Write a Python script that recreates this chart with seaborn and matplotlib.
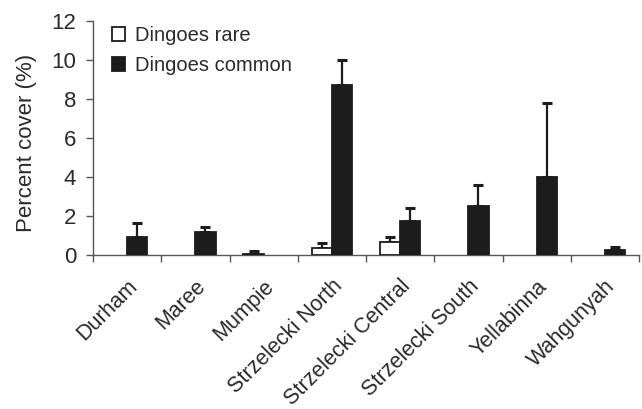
import matplotlib
matplotlib.use("Agg")
import matplotlib.pyplot as plt
from matplotlib.transforms import ScaledTranslation
import seaborn as sns
import pandas as pd
import numpy as np

sites = ["Durham", "Maree", "Mumpie", "Strzelecki North", "Strzelecki Central",
         "Strzelecki South", "Yellabinna", "Wahgunyah"]
groups = ["Dingoes rare", "Dingoes common"]
rare = [0.0, 0.0, 0.05, 0.34, 0.68, 0.0, 0.0, 0.0]
rare_err = [0.0, 0.0, 0.15, 0.26, 0.23, 0.0, 0.0, 0.0]
common = [0.91, 1.16, 0.0, 8.72, 1.73, 2.53, 3.98, 0.26]
common_err = [0.71, 0.29, 0.0, 1.28, 0.66, 1.06, 3.80, 0.17]
yticks = [0, 2, 4, 6, 8, 10, 12]

sns.set_style("ticks")
plt.rcParams['font.family'] = ['Liberation Sans', 'DejaVu Sans']
INK = "#1c1c1c"
TXT = "#2a2a2a"

df = pd.DataFrame({
    "site": sites * 2,
    "group": [groups[0]] * len(sites) + [groups[1]] * len(sites),
    "cover": rare + common,
})
errs = {groups[0]: rare_err, groups[1]: common_err}

fig = plt.figure(figsize=(6.42, 4.09), dpi=100)
ax = fig.add_axes([93 / 642, 1 - 255 / 409, 546 / 642, 234 / 409])

sns.barplot(data=df, x="site", y="cover", hue="group", hue_order=groups,
            palette={groups[0]: "white", groups[1]: INK}, edgecolor=INK,
            linewidth=1.3, width=0.59, errorbar=None, ax=ax, zorder=3)

for cont, g in zip(ax.containers, groups):
    for bar, e in zip(cont, errs[g]):
        if bar.get_height() <= 0:
            bar.set_visible(False)
        if e <= 0:
            continue
        xc = bar.get_x() + bar.get_width() / 2
        top = bar.get_height()
        ax.errorbar([xc], [top], yerr=[[0], [e]], fmt="none", ecolor=INK,
                    elinewidth=1.6, capsize=3.6, capthick=2.2, zorder=2)

ax.set_xlim(-0.5, len(sites) - 0.5)
ax.set_ylim(0, 12)
ax.set_yticks(yticks)
ax.set_yticklabels([str(t) for t in yticks], fontsize=16, color=TXT)
ax.set_xticks(range(len(sites)))
ax.set_xticklabels(sites, rotation=45, ha="right", va="top",
                   rotation_mode="anchor", fontsize=15.5, color=TXT)
shift = ScaledTranslation(3 / 100, 0, fig.dpi_scale_trans)
for lab in ax.get_xticklabels():
    lab.set_transform(lab.get_transform() + shift)
ax.set_xticks(np.arange(-0.5, len(sites)), minor=True)
ax.tick_params(axis="x", which="major", length=0, pad=15)
ax.tick_params(axis="x", which="minor", length=5, width=1, color="#555")
ax.tick_params(axis="y", length=5, width=1, color="#555", pad=7)
ax.set_xlabel("")
ax.set_ylabel("Percent cover (%)", fontsize=16, color=TXT)
ax.yaxis.set_label_coords(-0.103, 0.48)
for s in ["top", "right"]:
    ax.spines[s].set_visible(False)
for s in ["left", "bottom"]:
    ax.spines[s].set_color("#555")
    ax.spines[s].set_linewidth(1)

handles, labels = ax.get_legend_handles_labels()
ax.legend(handles, labels, loc="upper left", bbox_to_anchor=(0.035, 0.979),
          borderaxespad=0, borderpad=0,
          frameon=False, fontsize=14.5, handlelength=0.65, handleheight=0.65,
          handletextpad=0.5, labelspacing=0.55, labelcolor=TXT)

fig.savefig("out.png", dpi=100)
